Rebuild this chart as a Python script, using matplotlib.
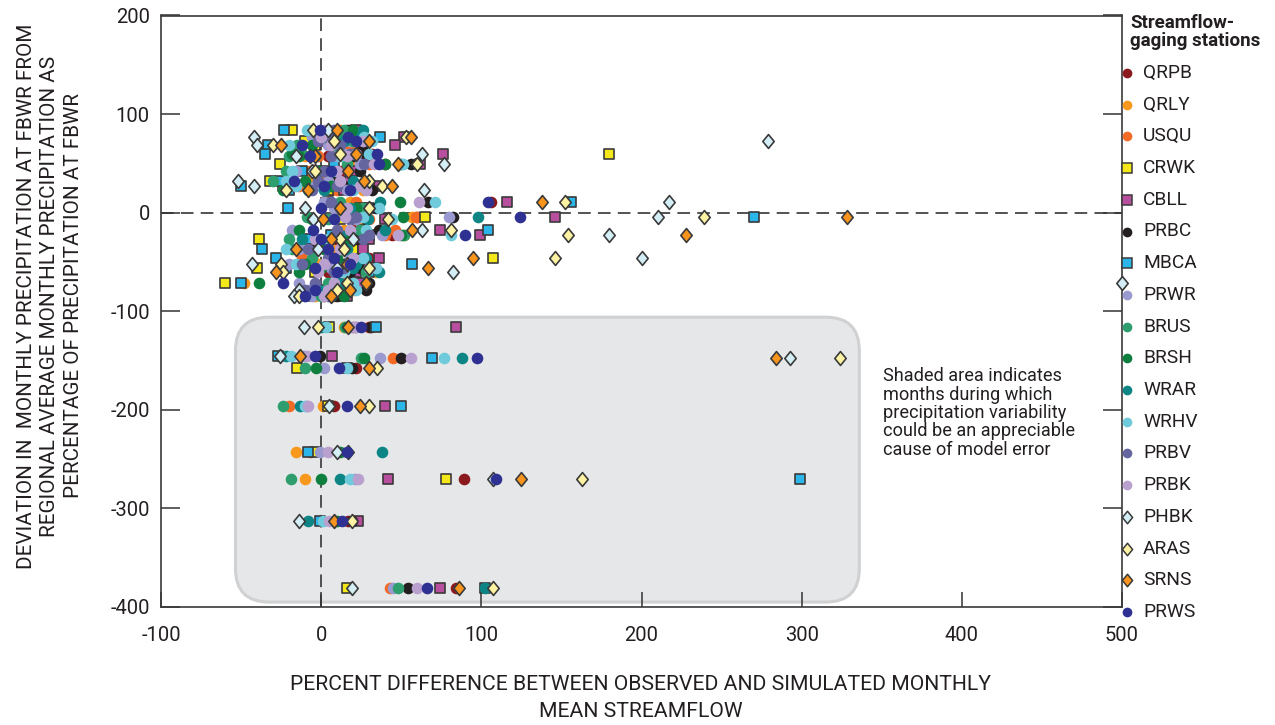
"""Precipitation deviation vs. streamflow error by gaging station."""
import numpy as np
import matplotlib.pyplot as plt
from matplotlib.patches import FancyBboxPatch
from matplotlib.lines import Line2D
from matplotlib.path import Path

plt.rcParams["font.family"] = ["Roboto", "DejaVu Sans"]

nan = np.nan

# Deviation in monthly precipitation at FBWR (percent), one value per month
MONTH_Y = [84, 77, 73, 69, 60, 57, 49, 42, 32, 27,
           23, 11, 5, -4, -6, -18, -23, -27, -37, -46,
           -52, -56, -60, -71, -78, -85, -116, -145, -147, -158,
           -196, -243, -270, -313, -381]

# Percent difference between observed and simulated streamflow, per station
QRPB = [18, 20, 2, 24, 32, 4, 40, 12, 14, 22, 6, 106, 28, 60, 10, 20, 44, 8, 22, 30,
        12, 26, 4, 18, 12, 2, 30, nan, nan, 22, 8, nan, 89, 17, 84]
QRLY = [-8, 12, 28, 15, 10, -10, 22, 4, -6, 18, 26, 18, 20, 57, 24, 14, 52, -6, 6, 26,
        -2, 16, 34, -48, 2, -4, 14, nan, nan, nan, 1, -16, -10, nan, nan]
USQU = [12, 6, 24, 18, 26, -2, 30, -7, 2, -14, 10, 22, 14, 59, 30, 46, 40, 18, 12, -12,
        4, 8, 22, 14, 20, 8, 20, nan, 45, nan, -20, -7, nan, nan, 43]
CRWK = [-18, 24, -10, -4, 180, 14, -26, 1, -32, -24, 4, 4, 24, 65, 12, 26, 30, -39, 20, 107,
        18, -40, -4, -60, 8, 12, 5, nan, nan, -15, 4, -3, 78, nan, 16]
CBLL = [22, 52, 10, 46, 76, 28, 62, 20, 18, 36, 14, 116, 30, 146, 40, 74, 99, 30, 26, 36,
        20, 32, 22, 24, 10, 16, 84, 7, nan, nan, 40, nan, 42, 23, 74]
PRBC = [16, 14, 6, 26, 28, 20, 56, 24, 8, 14, 32, 67, 34, 82, 28, 36, 16, 22, -4, 6,
        14, 24, 18, 30, 28, 10, 31, -1, 50, 19, nan, nan, nan, 19, 54]
MBCA = [-23, 37, 12, -33, -35, 16, 8, -12, -26, -50, -20, 156, -21, 270, 20, 104, 6, -8, -37, -28,
        57, -22, 30, -50, 0, -8, 34, -27, 69, 16, 50, -8, 299, -1, 102]
PRWR = [5, -6, 18, 4, 14, 10, 24, -16, 4, -4, 16, 2, 8, 80, 22, -18, 38, -2, -14, 18,
        -20, 6, 10, -14, -8, -6, 19, -11, 37, 2, -9, -1, 21, nan, 45]
BRUS = [14, 9, 20, -15, -12, -20, 16, -22, -30, -20, -8, 12, 26, -9, 4, 24, 52, -20, -18, -6,
        16, 12, 28, 4, 6, 0, 15, nan, 25, -10, -24, nan, -19, nan, 48]
BRSH = [20, 3, 8, -6, -18, -14, 40, -2, -10, 6, -24, 49, 22, 51, -6, -14, 50, 14, 2, 10,
        -10, 0, -14, -39, 14, 14, 16, nan, 27, -3, nan, 12, 0, 10, nan]
WRAR = [26, 25, 14, 8, 20, -4, 50, 8, 20, 28, 2, 37, 18, 98, 29, 40, 12, -12, 16, 28,
        22, 20, 36, 12, -2, 6, 0, -22, 88, nan, -13, 38, 12, -8, 102]
WRHV = [-9, 27, 32, -20, 30, 12, 51, -18, -22, -16, 20, 71, 36, 26, 44, 28, 81, 4, -22, 26,
        -16, 34, 14, 20, 22, -10, 3, -19, 77, 16, -10, nan, 18, 1, nan]
PRBV = [8, 4, -2, 12, 18, 6, 27, 2, -2, 10, -6, 6, 12, 22, 18, 10, 30, 26, -8, 4,
        -12, 14, 8, -4, -10, 4, 22, nan, nan, nan, nan, nan, nan, nan, nan]
PRBK = [2, 0, 26, 6, 22, 16, 33, 10, 12, 24, 28, 61, 16, 15, 8, 18, 48, -4, 12, 20,
        2, 30, -2, 8, 4, 2, 21, -9, 56, nan, -8, 4, 23, 5, 60]
PHBK = [4, -42, 279, -40, 63, -16, 77, -6, -52, -42, 64, 217, -10, 210, -5, 63, 180, 20, -2, 200,
        -43, 10, 82, 500, -14, -17, -11, -26, 293, nan, 5, 10, 107, -14, 19]
ARAS = [-5, 53, 8, -30, 12, -7, 60, -4, 30, 38, -22, 152, 30, 239, 42, 81, 154, 12, 14, 146,
        -25, 30, -24, 16, 10, -14, -2, nan, 324, 35, 30, 17, 163, 19, 107]
SRNS = [10, 56, 30, -25, 22, -4, 48, 17, 27, 44, -8, 138, 12, 328, 1, 57, 228, 6, -16, 95,
        16, 67, -28, 28, 18, 6, 17, -13, 284, 30, 24, nan, 125, 8, 86]
PRWS = [-1, 17, 22, -12, 35, -7, 36, 6, -17, 2, 18, 104, 0, 124, 8, -5, 90, 0, 4, 8,
        18, -4, 10, -24, -4, -10, 25, -4, 97, 11, 16, 16, 109, 13, 66]

STATIONS = ["QRPB", "QRLY", "USQU", "CRWK", "CBLL", "PRBC", "MBCA", "PRWR", "BRUS",
            "BRSH", "WRAR", "WRHV", "PRBV", "PRBK", "PHBK", "ARAS", "SRNS", "PRWS"]
SERIES = [QRPB, QRLY, USQU, CRWK, CBLL, PRBC, MBCA, PRWR, BRUS,
          BRSH, WRAR, WRHV, PRBV, PRBK, PHBK, ARAS, SRNS, PRWS]
COLORS = ["#8b1a1e", "#f8991d", "#f26a24", "#f5e81a", "#b84f9e", "#231f20", "#2bb5e8",
          "#9a9ad0", "#2f9e6e", "#0e7f3e", "#0d8585", "#6fcbdc", "#6565a0", "#b9a0cf",
          "#d4eef6", "#fdf3a3", "#f7941d", "#2e3192"]
SHAPES = ["o", "o", "o", "s", "s", "o", "s", "o", "o",
          "o", "o", "o", "o", "o", "D", "D", "D", "o"]

# slightly tall rhombus for the diamond stations
diamond = Path([(0, 1), (0.82, 0), (0, -1), (-0.82, 0), (0, 1)],
               [Path.MOVETO, Path.LINETO, Path.LINETO, Path.LINETO, Path.CLOSEPOLY])
EDGE = "#3a3a3a"
TXT = "#231f20"

fig = plt.figure(figsize=(12.75, 7.25), dpi=100)
ax = fig.add_axes([161 / 1275, 1 - 607 / 725, (1122 - 161) / 1275, (607 - 15.5) / 725])
ax.set_xlim(-100, 500)
ax.set_ylim(-400, 200)

# shaded region of months with large precipitation deviation
box = FancyBboxPatch((-53.5, -395), 389.5, 289,
                     boxstyle="round,pad=0,rounding_size=21", mutation_aspect=1.62,
                     facecolor="#e6e7e8", edgecolor="#d0d1d3", lw=2.2, zorder=0)
ax.add_patch(box)
ax.text(351, -157, "Shaded area indicates\nmonths during which\nprecipitation variability\n"
        "could be an appreciable\ncause of model error",
        ha="left", va="top", fontsize=13.1, linespacing=1.02, color=TXT)

ax.axhline(0, color="#444444", lw=1.3, dashes=(7, 4), zorder=1)
ax.axvline(0, color="#444444", lw=1.3, dashes=(7, 4), zorder=1)

y_all = np.array(MONTH_Y, dtype=float)
for name, xs, color, shape in zip(STATIONS, SERIES, COLORS, SHAPES):
    xs = np.array(xs, dtype=float)
    ok = ~np.isnan(xs)
    if shape == "o":
        ax.scatter(xs[ok], y_all[ok], s=70, marker="o", color=color, lw=0,
                   zorder=3, clip_on=False)
    elif shape == "s":
        ax.scatter(xs[ok], y_all[ok], s=56, marker="s", facecolor=color,
                   edgecolor=EDGE, lw=1.2, zorder=3, clip_on=False)
    else:
        ax.scatter(xs[ok], y_all[ok], s=100, marker=diamond, facecolor=color,
                   edgecolor=EDGE, lw=1.2, zorder=3, clip_on=False)

ax.set_xticks(range(-100, 501, 100))
ax.set_yticks(range(-400, 201, 100))
ax.set_yticklabels([str(v) for v in range(-400, 201, 100)])
ax.set_xticklabels([str(v) for v in range(-100, 501, 100)])
ax.tick_params(axis="both", direction="in", labelsize=14.5, colors="#333333",
               labelcolor=TXT, width=1.1, right=True)
ax.tick_params(axis="y", length=14, pad=8)
ax.tick_params(axis="x", length=11, pad=14)
for sp in ax.spines.values():
    sp.set_color("#3a3a3a")
    sp.set_linewidth(1.2)

fig.text(641 / 1275, 1 - 698 / 725,
         "PERCENT DIFFERENCE BETWEEN OBSERVED AND SIMULATED MONTHLY\nMEAN STREAMFLOW",
         ha="center", va="center", fontsize=15.2, linespacing=1.5, color=TXT)
fig.text(50 / 1275, 1 - 296 / 725,
         "DEVIATION IN  MONTHLY PRECIPITATION AT FBWR FROM\n"
         "REGIONAL AVERAGE MONTHLY PRECIPITATION AS\nPERCENTAGE OF PRECIPITATION AT FBWR",
         ha="center", va="center", rotation=90, multialignment="center",
         fontsize=14.9, linespacing=1.3, color=TXT)

# legend column on the right
fig.text(1130 / 1275, 1 - 32 / 725, "Streamflow-\ngaging stations", ha="left", va="center",
         fontsize=13.5, fontweight="bold", linespacing=1.0, color=TXT)
for i, (name, color, shape) in enumerate(zip(STATIONS, COLORS, SHAPES)):
    yy = 1 - (73 + i * 31.7) / 725
    if shape == "o":
        mk = dict(marker="o", markersize=7, markerfacecolor=color, markeredgewidth=0)
    elif shape == "s":
        mk = dict(marker="s", markersize=6.5, markerfacecolor=color,
                  markeredgecolor=EDGE, markeredgewidth=1.1)
    else:
        mk = dict(marker=diamond, markersize=9, markerfacecolor=color,
                  markeredgecolor=EDGE, markeredgewidth=1.1)
    fig.add_artist(Line2D([1127 / 1275], [yy], linestyle="none",
                          transform=fig.transFigure, **mk))
    fig.text(1143 / 1275, yy, name, ha="left", va="center", fontsize=13.8, color=TXT)

fig.savefig("out.png", dpi=100)
